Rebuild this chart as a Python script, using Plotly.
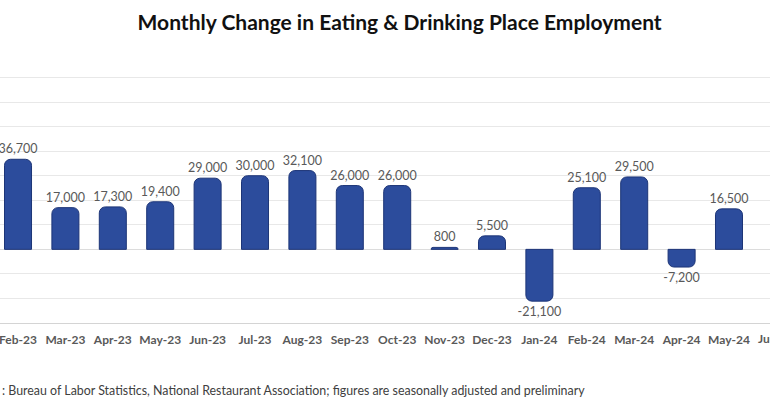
import plotly.graph_objects as go

months = ["Feb-23", "Mar-23", "Apr-23", "May-23", "Jun-23", "Jul-23", "Aug-23",
          "Sep-23", "Oct-23", "Nov-23", "Dec-23", "Jan-24", "Feb-24", "Mar-24",
          "Apr-24", "May-24"]
changes = [36700, 17000, 17300, 19400, 29000, 30000, 32100, 26000, 26000,
           800, 5500, -21100, 25100, 29500, -7200, 16500]
next_month = "Jun-24"

title = "Monthly Change in Eating & Drinking Place Employment"
source = ": Bureau of Labor Statistics, National Restaurant Association; figures are seasonally adjusted and preliminary"

labels = [f"{v:,}" for v in changes]

xmin, xmax = -0.38, 15.865

fig = go.Figure()
fig.add_trace(go.Bar(
    x=months, y=changes,
    text=labels, textposition="outside", constraintext="none",
    textfont=dict(family="Lato", size=12.5, color="#595959"),
    cliponaxis=False,
    marker=dict(color="#2C4C9C", line=dict(color="#1D3577", width=1), cornerradius=6),
    width=0.57,
    hoverinfo="skip",
))

fig.update_layout(
    width=770, height=400,
    margin=dict(l=0, r=0, t=53, b=77),
    paper_bgcolor="white", plot_bgcolor="white",
    showlegend=False,
    title=dict(text=title, x=0.519, xanchor="center", y=0.943, yanchor="middle",
               font=dict(family="Lato", size=21, color="#111111", weight="bold")),
    xaxis=dict(type="category", range=[xmin, xmax], showgrid=False,
               showline=True, linecolor="#D4D4D4", linewidth=1,
               ticks="", ticklabelstandoff=6,
               tickfont=dict(family="Lato", size=12, color="#595959", weight="bold")),
    yaxis=dict(range=[-30000, 80000], dtick=10000, showgrid=True,
               gridcolor="#E8E8E8", gridwidth=1, zeroline=True,
               zerolinecolor="#DCDCDC", zerolinewidth=1,
               showticklabels=False, ticks=""),
)

# label for the next month, cut off at the right edge like the reference
fig.add_annotation(
    x=(len(months) - xmin) / (xmax - xmin), xref="paper",
    y=0, yref="paper", yshift=-6, yanchor="top", xanchor="center",
    text=next_month, showarrow=False,
    font=dict(family="Lato", size=12, color="#595959", weight="bold"),
)

fig.add_annotation(
    x=0, xref="paper", xanchor="left", y=-0.2, yref="paper", yanchor="middle",
    yshift=-13,
    text=source, showarrow=False,
    font=dict(family="Lato", size=12.4, color="#404040"),
)

fig.write_html("out.html")
